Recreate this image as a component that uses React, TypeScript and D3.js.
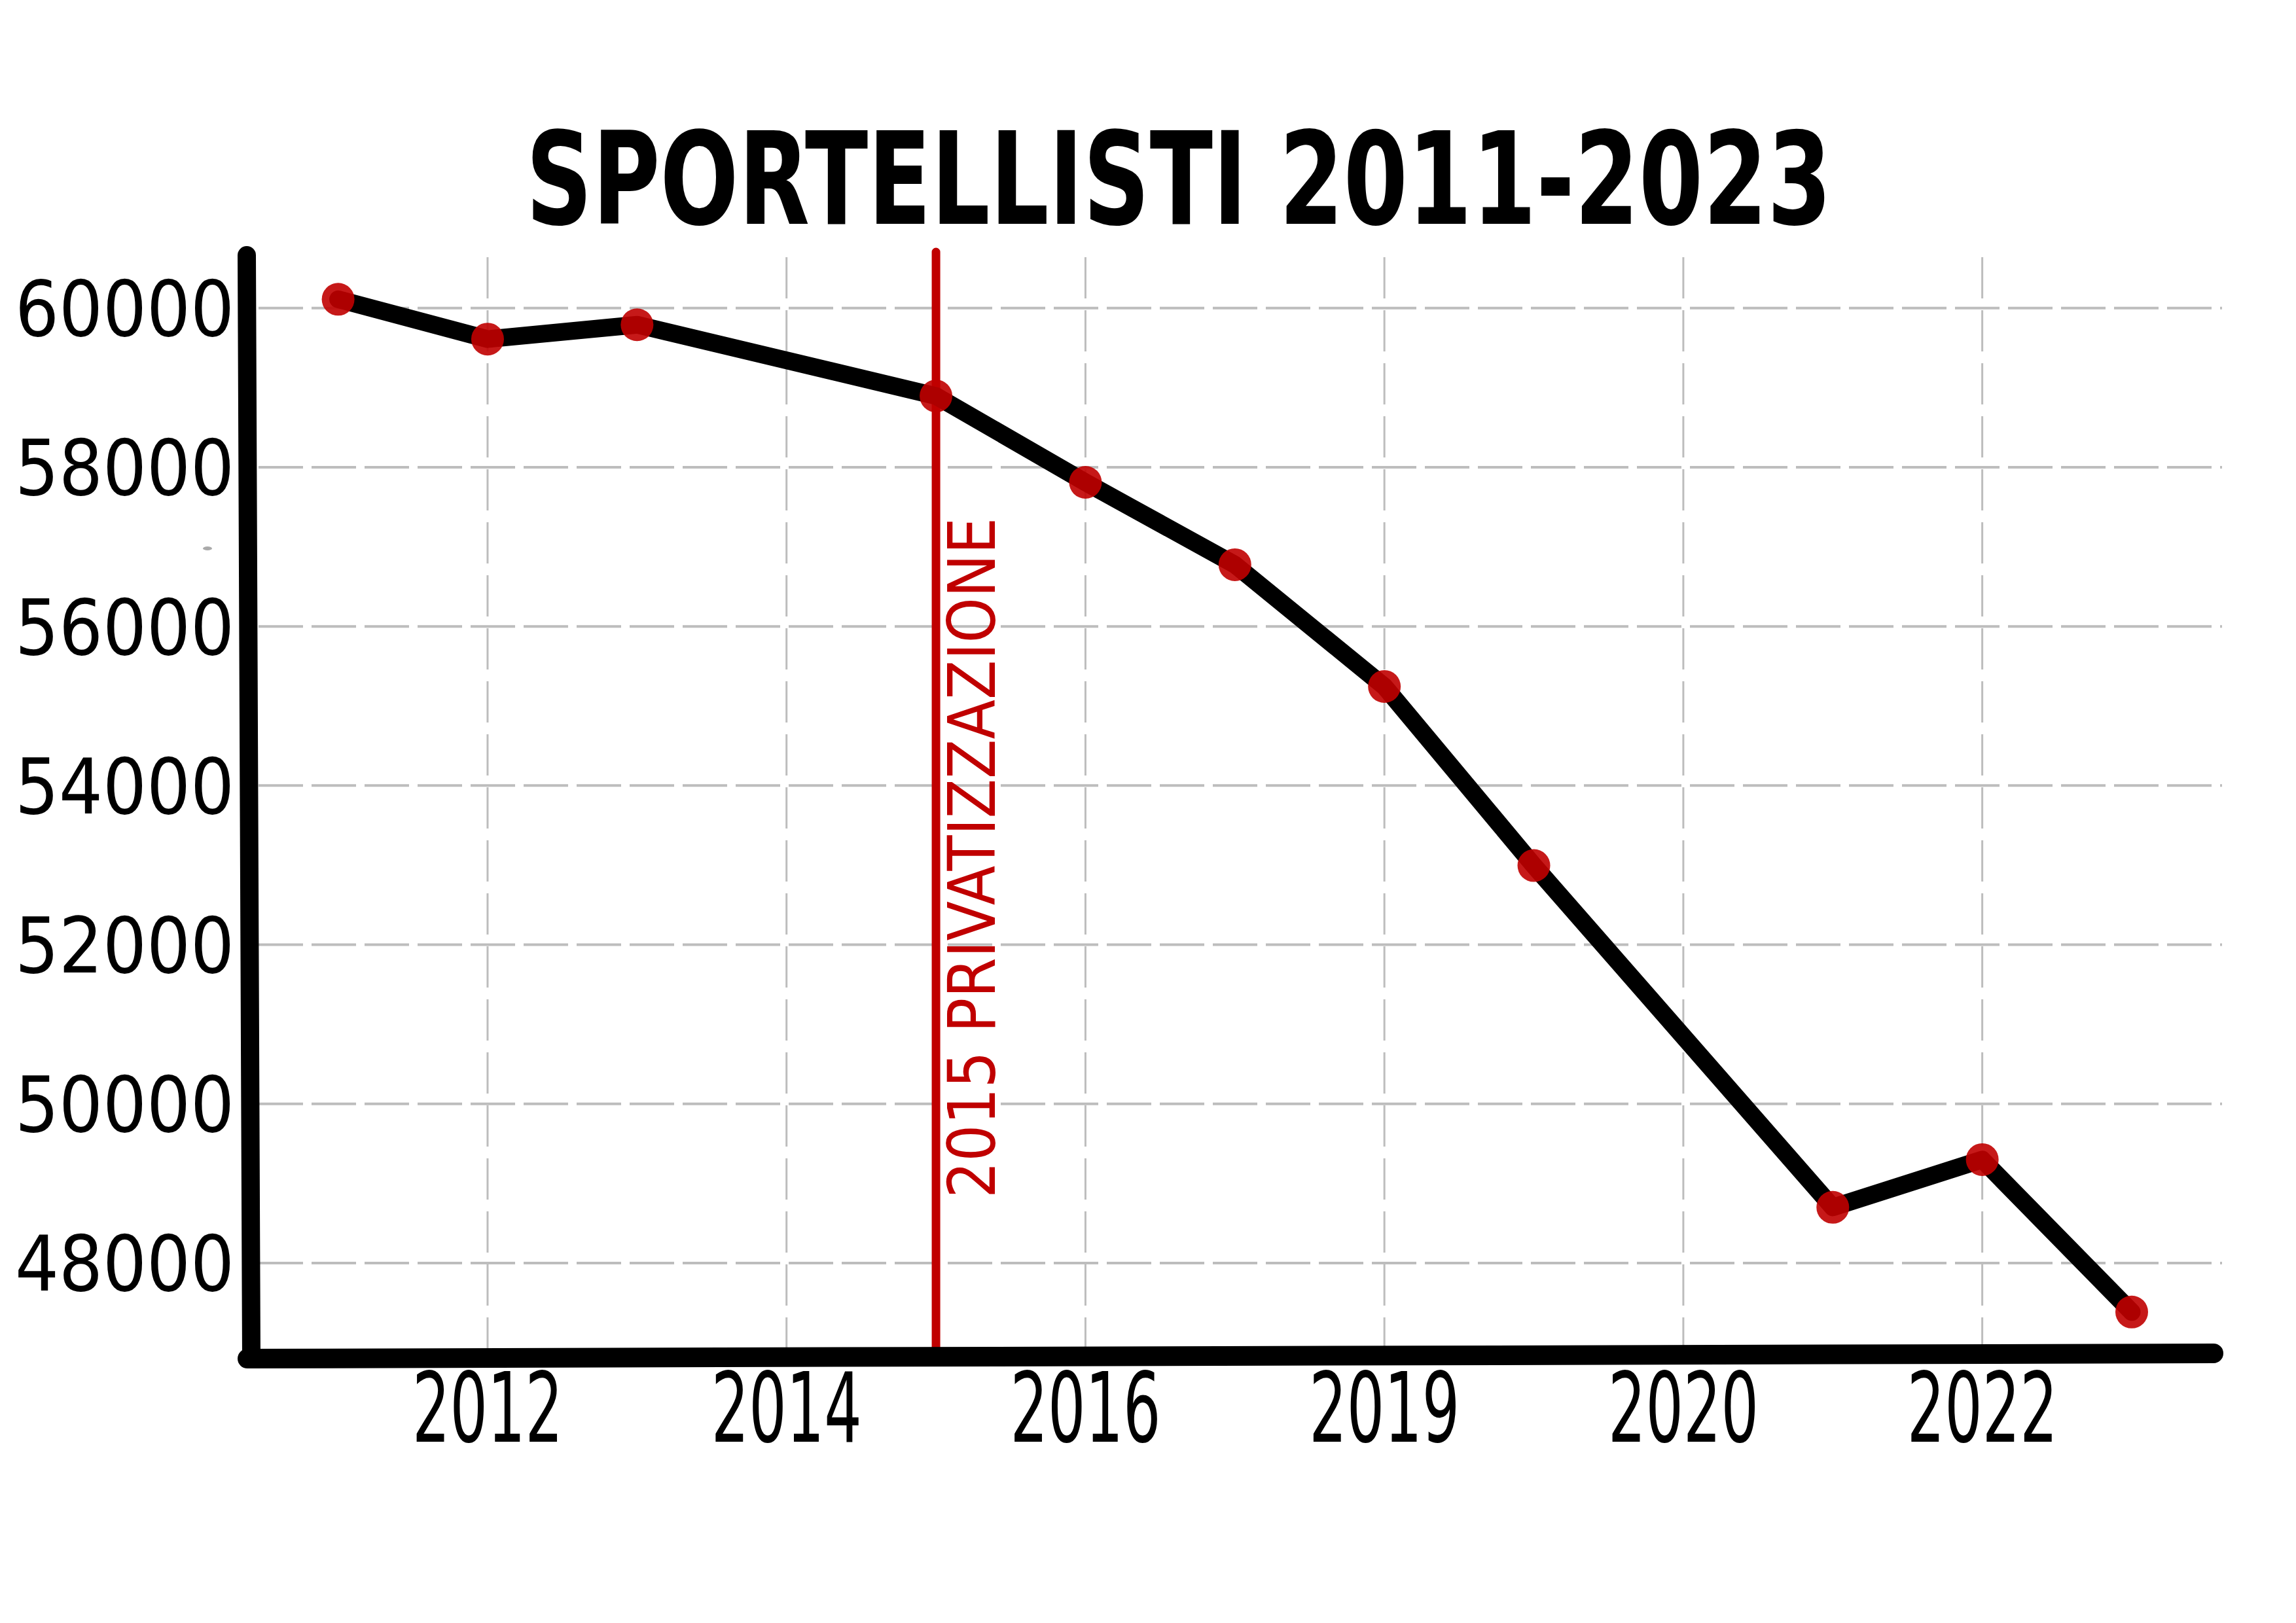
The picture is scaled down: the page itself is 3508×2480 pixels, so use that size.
import React from "react";
import * as d3 from "d3";

const years = [2011, 2012, 2013, 2015, 2016, 2017, 2018, 2019, 2021, 2022, 2023];
const values = [60110, 59610, 59790, 58895, 57810, 56775, 55245, 52995, 48700, 49300, 47385];
const yTicks = [48000, 50000, 52000, 54000, 56000, 58000, 60000];
const xTickYears = [2012, 2014, 2016, 2018, 2020, 2022];
const xTickLabels = ["2012", "2014", "2016", "2019", "2020", "2022"];
const title = "SPORTELLISTI 2011-2023";
const eventYear = 2015;
const eventLabel = "2015 PRIVATIZZAZIONE";

const W = 3508;
const H = 2480;

export default function App() {
  const x = d3.scaleLinear().domain([2011, 2023]).range([516.6, 3257]);
  const y = d3.scaleLinear().domain([48000, 60000]).range([1930, 470.7]);
  const pts: [number, number][] = years.map((yr, i) => [x(yr), y(values[i])]);
  const line = d3.line().curve(d3.curveLinear)(pts) || "";
  const font = "'DejaVu Sans Condensed', 'DejaVu Sans', sans-serif";
  const red = "#c00000";

  return (
    <svg
      width={W}
      height={H}
      viewBox={`0 0 ${W} ${H}`}
      style={{ position: "absolute", left: 0, top: 0, background: "#fff" }}
    >
      <rect x={0} y={0} width={W} height={H} fill="#fff" />
      {/* title */}
      <text
        x={1801}
        y={342}
        textAnchor="middle"
        fontFamily={font}
        fontWeight="bold"
        fontSize={196}
        textLength={1995}
        lengthAdjust="spacingAndGlyphs"
        fill="#000"
      >
        {title}
      </text>

      {/* horizontal grid */}
      {yTicks.map((t) => (
        <line
          key={"h" + t}
          x1={395}
          x2={3395}
          y1={y(t)}
          y2={y(t)}
          stroke="#bdbdbd"
          strokeWidth={4}
          strokeDasharray="68 13"
        />
      ))}
      {/* vertical grid */}
      {xTickYears.map((t) => (
        <line
          key={"v" + t}
          x1={x(t)}
          x2={x(t)}
          y1={393}
          y2={2062}
          stroke="#bdbdbd"
          strokeWidth={3}
          strokeDasharray="63 18"
        />
      ))}

      {/* y tick labels */}
      {yTicks.map((t) => (
        <text
          key={"yl" + t}
          x={358}
          y={y(t)}
          dy="0.36em"
          textAnchor="end"
          fontFamily={font}
          fontSize={118}
          textLength={335}
          lengthAdjust="spacingAndGlyphs"
          fill="#000"
        >
          {t}
        </text>
      ))}

      {/* x tick labels */}
      {xTickYears.map((t, i) => (
        <text
          key={"xl" + t}
          x={x(t)}
          y={2203}
          textAnchor="middle"
          fontFamily={font}
          fontSize={148}
          textLength={230}
          lengthAdjust="spacingAndGlyphs"
          fill="#000"
        >
          {xTickLabels[i]}
        </text>
      ))}

      {/* event line */}
      <line
        x1={x(eventYear)}
        x2={x(eventYear)}
        y1={385}
        y2={2061}
        stroke={red}
        strokeWidth={13}
        strokeLinecap="round"
      />
      <text
        transform={`translate(1520,1831) rotate(-90)`}
        fontFamily={font}
        fontSize={100}
        textLength={1040}
        lengthAdjust="spacingAndGlyphs"
        fill={red}
      >
        {eventLabel}
      </text>

      {/* data line */}
      <path
        d={line}
        fill="none"
        stroke="#000"
        strokeWidth={27}
        strokeLinejoin="round"
        strokeLinecap="round"
      />
      {pts.map(([px, py], i) => (
        <circle key={"p" + i} cx={px} cy={py} r={25} fill={red} fillOpacity={0.9} />
      ))}

      {/* axes */}
      <line x1={377} y1={390} x2={384} y2={2076} stroke="#000" strokeWidth={28} strokeLinecap="round" />
      <line x1={378} y1={2076} x2={3382} y2={2068} stroke="#000" strokeWidth={30} strokeLinecap="round" />

      {/* small grey mark */}
      <ellipse cx={317} cy={838} rx={7} ry={3} fill="#aaa" />
    </svg>
  );
}
